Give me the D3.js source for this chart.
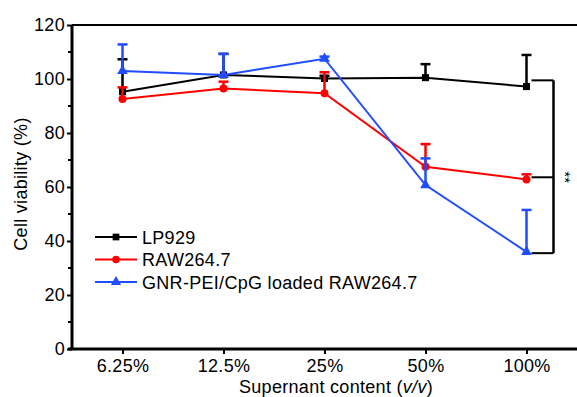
<!DOCTYPE html>
<html>
<head>
<meta charset="utf-8">
<script src="https://cdn.jsdelivr.net/npm/d3@7"></script>
<style>
  body { margin: 0; background: #fff; }
  text { font-family: Arial, "Liberation Sans", sans-serif; letter-spacing: 0.3px; }
</style>
</head>
<body>
<svg width="577" height="397"></svg>
<script>
var svg = d3.select("svg");

// data
var categories = ["6.25%", "12.5%", "25%", "50%", "100%"];
var seriesNames = ["LP929", "RAW264.7", "GNR-PEI/CpG loaded RAW264.7"];
var lp929 = [95.3, 101.5, 100.2, 100.5, 97.2];
var lp929Err = [12.0, 7.8, 1.0, 5.0, 11.7];
var raw = [92.6, 96.5, 94.7, 67.5, 62.8];
var rawErr = [4.3, 2.5, 7.8, 8.4, 1.9];
var gnr = [103.0, 101.5, 107.5, 60.7, 36.0];
var gnrErr = [9.8, 7.8, 0.8, 9.9, 15.5];
var bracketLevels = [99.5, 63.6, 35.5];
var yTicks = [0, 20, 40, 60, 80, 100, 120];

var colors = ["#000000", "#ff0000", "#1f4dff"];
var symbols = [d3.symbolSquare, d3.symbolCircle, d3.symbolTriangle];

var margin = {left: 72, top: 25, bottom: 349};
var width = 577;
var fs = 18;

var x = d3.scalePoint().domain(categories).range([margin.left, width]).padding(0.5);
var y = d3.scaleLinear().domain([0, 120]).range([margin.bottom, margin.top]);

var series = [lp929, raw, gnr].map(function(vals, i) {
  var errs = [lp929Err, rawErr, gnrErr][i];
  return {
    name: seriesNames[i], color: colors[i], symbol: symbols[i],
    points: vals.map(function(v, j) { return {cat: categories[j], v: v, e: errs[j]}; })
  };
});

// top frame line
svg.append("line")
  .attr("x1", margin.left).attr("x2", width)
  .attr("y1", margin.top).attr("y2", margin.top)
  .attr("stroke", "#000").attr("stroke-width", 2);

// y axis
var yAxis = svg.append("g")
  .attr("transform", "translate(" + margin.left + ",0)")
  .call(d3.axisLeft(y).tickValues(yTicks).tickSize(5).tickPadding(2));
yAxis.append("g").selectAll("line")
  .data(d3.range(10, 120, 20))
  .enter().append("line")
  .attr("x1", 0).attr("x2", -4)
  .attr("y1", function(d) { return y(d); }).attr("y2", function(d) { return y(d); })
  .attr("stroke", "#000").attr("stroke-width", 2);
yAxis.select(".domain").attr("stroke-width", 3).attr("d", "M0," + margin.bottom + "V" + margin.top);
yAxis.selectAll(".tick line").attr("stroke-width", 2);
yAxis.selectAll(".tick text").attr("font-size", fs).attr("fill", "#000");

// x axis
var xAxis = svg.append("g")
  .attr("transform", "translate(0," + margin.bottom + ")")
  .call(d3.axisBottom(x).tickSize(5).tickPadding(5));
xAxis.select(".domain").attr("stroke-width", 3).attr("d", "M" + (margin.left - 4) + ",0H" + width);
xAxis.selectAll(".tick line").attr("stroke-width", 2);
xAxis.selectAll(".tick text").attr("font-size", fs).attr("fill", "#000");

// axis titles
svg.append("text")
  .attr("transform", "translate(27,184) rotate(-90)")
  .attr("text-anchor", "middle").attr("font-size", fs)
  .text("Cell viability (%)");

var xt = svg.append("text")
  .attr("x", 336).attr("y", 393)
  .attr("text-anchor", "middle").attr("font-size", fs);
xt.append("tspan").text("Supernant content (");
xt.append("tspan").attr("font-style", "italic").text("v/v");
xt.append("tspan").text(")");

// series
var line = d3.line()
  .x(function(d) { return x(d.cat); })
  .y(function(d) { return y(d.v); });

var g = svg.selectAll(".series")
  .data(series)
  .enter().append("g").attr("class", "series");

g.append("path")
  .attr("d", function(d) { return line(d.points); })
  .attr("fill", "none")
  .attr("stroke", function(d) { return d.color; })
  .attr("stroke-width", 2);

g.each(function(s) {
  var sel = d3.select(this);
  var eb = sel.selectAll(".err").data(s.points).enter().append("g").attr("class", "err");
  eb.append("line")
    .attr("x1", function(d) { return x(d.cat); }).attr("x2", function(d) { return x(d.cat); })
    .attr("y1", function(d) { return y(d.v); }).attr("y2", function(d) { return y(d.v + d.e); })
    .attr("stroke", s.color).attr("stroke-width", 2.5);
  eb.append("line")
    .attr("x1", function(d) { return x(d.cat) - 5; }).attr("x2", function(d) { return x(d.cat) + 5; })
    .attr("y1", function(d) { return y(d.v + d.e); }).attr("y2", function(d) { return y(d.v + d.e); })
    .attr("stroke", s.color).attr("stroke-width", 2.5);
  sel.selectAll(".mark").data(s.points).enter().append("path")
    .attr("class", "mark")
    .attr("transform", function(d) { return "translate(" + x(d.cat) + "," + y(d.v) + ")"; })
    .attr("d", d3.symbol().type(s.symbol).size(50))
    .attr("fill", s.color);
});

// significance bracket at 100%
var last = categories[categories.length - 1];
var bx0 = x(last) + 5, bx1 = x(last) + 27;
var br = svg.append("g").attr("stroke", "#000").attr("stroke-width", 2.5).attr("fill", "none");
bracketLevels.forEach(function(v) {
  br.append("line").attr("x1", bx0).attr("x2", bx1).attr("y1", y(v)).attr("y2", y(v))
    .attr("stroke-width", 2);
});
br.append("line").attr("x1", bx1).attr("x2", bx1)
  .attr("y1", y(bracketLevels[0])).attr("y2", y(bracketLevels[2]));
svg.append("text")
  .attr("transform", "translate(" + (bx1 + 6) + "," + y(bracketLevels[1]) + ") rotate(90)")
  .attr("text-anchor", "middle").attr("font-size", 15)
  .text("**");

// legend
var legend = svg.append("g").attr("transform", "translate(95,237)");
var li = legend.selectAll("g").data(series).enter().append("g")
  .attr("transform", function(d, i) { return "translate(0," + (i * 22.5) + ")"; });
li.append("line").attr("x1", 0).attr("x2", 42)
  .attr("stroke", function(d) { return d.color; }).attr("stroke-width", 2);
li.append("path")
  .attr("transform", "translate(21,0)")
  .attr("d", function(d) { return d3.symbol().type(d.symbol).size(45)(); })
  .attr("fill", function(d) { return d.color; });
li.append("text").attr("x", 47).attr("y", 6.5).attr("font-size", fs)
  .text(function(d) { return d.name; });
</script>
</body>
</html>
